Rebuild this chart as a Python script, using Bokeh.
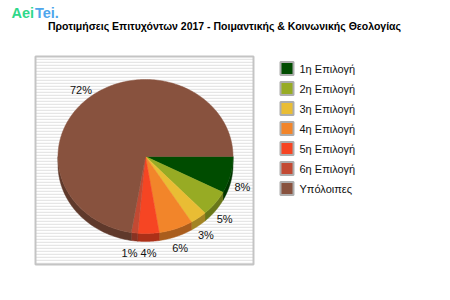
import numpy as np
from bokeh.plotting import figure
from bokeh.models import Range1d
from bokeh.core.properties import value
from bokeh.embed import file_html
from bokeh.resources import INLINE

# ---- data ----
categories = ["1η Επιλογή", "2η Επιλογή", "3η Επιλογή", "4η Επιλογή",
              "5η Επιλογή", "6η Επιλογή", "Υπόλοιπες"]
shares = [7.7, 5.4, 3.1, 6.3, 3.9, 1.2, 72.4]
colors = ["#004C00", "#97AB24", "#E9BD34", "#F2852A", "#F64523", "#C34A33", "#88523E"]
title_text = "Προτιμήσεις Επιτυχόντων 2017 - Ποιμαντικής & Κοινωνικής Θεολογίας"

# ---- layout ----
W, H = 450, 300
cx, cy, rx, ry, depth = 145, 156, 87.5, 77, 8
FONT = "Liberation Sans"


def darker(hexc, f=0.7):
    r, g, b = int(hexc[1:3], 16), int(hexc[3:5], 16), int(hexc[5:7], 16)
    return "#%02x%02x%02x" % (int(r * f), int(g * f), int(b * f))


p = figure(width=W, height=H, x_range=Range1d(0, W), y_range=Range1d(H, 0),
           x_axis_type=None, y_axis_type=None, toolbar_location=None,
           output_backend="svg", min_border=0)
p.grid.visible = False
p.outline_line_color = None
p.background_fill_color = "white"
p.border_fill_color = "white"

# plot box with striped background
p.quad(left=[35], right=[253], top=[56], bottom=[264], fill_color="#ffffff",
       hatch_pattern="horizontal_line", hatch_color="#e6e6e6", hatch_scale=3,
       hatch_weight=1.5, line_color="#c4c4c4", line_width=2)

vals = np.array(shares, dtype=float)
fr = vals / vals.sum()
ends = np.cumsum(fr) * 2 * np.pi
starts = ends - fr * 2 * np.pi

# sides (3D depth) — visible front half: angles 0..pi
sx, sy, sc = [], [], []
for a, b, c in zip(starts, ends, colors):
    lo, hi = max(a, 0), min(b, np.pi)
    if hi <= lo:
        continue
    t = np.linspace(lo, hi, 60)
    xs = cx + rx * np.cos(t)
    ys = cy + ry * np.sin(t)
    sx.append(list(xs) + list(xs[::-1]))
    sy.append(list(ys) + list(ys[::-1] + depth))
    sc.append(darker(c))
p.patches(sx, sy, fill_color=sc, line_color=sc, line_width=0.5)

# tops
tx, ty = [], []
for a, b in zip(starts, ends):
    n = max(4, int((b - a) / (2 * np.pi) * 300))
    t = np.linspace(a, b, n)
    tx.append([cx] + list(cx + rx * np.cos(t)))
    ty.append([cy] + list(cy + ry * np.sin(t)))
p.patches(tx, ty, fill_color=colors, line_color=colors, line_width=0.5)

# labels
mids = (starts + ends) / 2
lx = cx + 1.14 * rx * np.cos(mids)
ly = cy + 1.14 * ry * np.sin(mids) + np.where(np.sin(mids) > 0, depth + 1, 0)
lx = list(lx)
ly = list(ly)
# nudge overlapping neighbours apart
for i in range(len(lx) - 1):
    if abs(ly[i] - ly[i + 1]) < 10 and abs(lx[i] - lx[i + 1]) < 19:
        m = (lx[i] + lx[i + 1]) / 2 - 2
        lx[i], lx[i + 1] = m + 9.5, m - 9.5
labels = ["%d%%" % round(v) for v in shares]
p.text(x=lx, y=ly, text=labels, text_align="center", text_baseline="middle",
       text_font=value(FONT), text_font_size="11px", text_color="#111111")

# title and logo
p.text(x=[224], y=[25], text=[title_text], text_align="center", text_baseline="middle",
       text_font=value(FONT), text_font_size="10.5px", text_font_style="bold",
       text_color="black")
p.text(x=[11], y=[12], text=["Aei"], text_align="left", text_baseline="middle",
       text_font=value(FONT), text_font_size="14.5px", text_font_style="bold",
       text_color="#2FD88A")
p.text(x=[34.5], y=[12], text=["Tei."], text_align="left", text_baseline="middle",
       text_font=value(FONT), text_font_size="14.5px", text_font_style="bold",
       text_color="#4FA6EC")

# legend (manual swatches + labels)
idx = np.arange(len(categories))
row_y = 68 + 20 * idx
p.quad(left=280, right=293, top=row_y - 6.5, bottom=row_y + 6.5,
       fill_color=colors, line_color="#adadad", line_width=2)
p.text(x=299, y=row_y, text=categories, text_align="left", text_baseline="middle",
       text_font=value(FONT), text_font_size="11px", text_color="#111111")

open("out.html", "w").write(file_html(p, INLINE))
